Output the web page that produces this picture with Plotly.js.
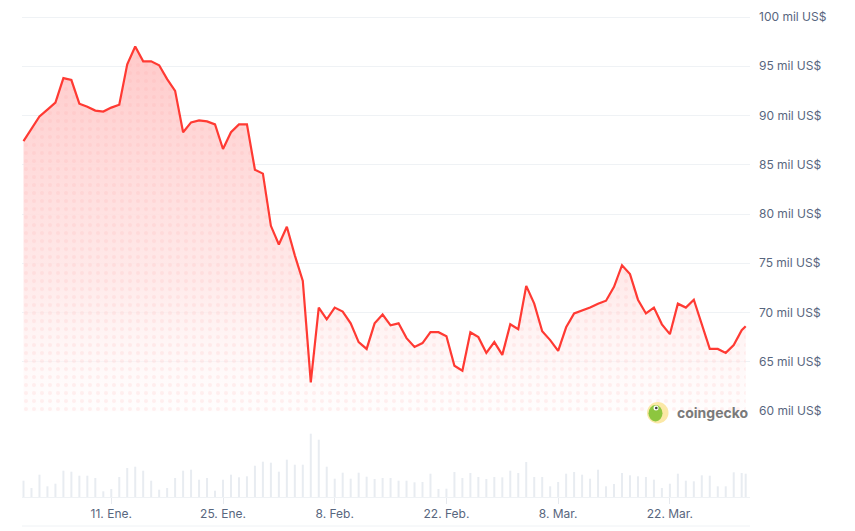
<!DOCTYPE html>
<html>
<head>
<meta charset="utf-8">
<script src="https://cdn.plot.ly/plotly-3.0.1.min.js"></script>
<style>
  html, body { margin: 0; padding: 0; background: #ffffff; }
  #chart { width: 855px; height: 531px; }
</style>
</head>
<body>
<div id="chart"></div>
<script>
// ---- Data ----
const startDate = '2024-12-31';       // first daily point
const lastPointDate = '2025-03-31 12:00'; // final (partial-day) point

// Price in thousands of US$ (one value per day from startDate, then the final point)
const prices = [
  87.4, 88.7, 89.9, 90.6, 91.3, 93.8, 93.6, 91.2, 90.9, 90.5,
  90.4, 90.8, 91.1, 95.2, 97.0, 95.5, 95.5, 95.1, 93.7, 92.5,
  88.3, 89.3, 89.5, 89.4, 89.1, 86.6, 88.3, 89.1, 89.1, 84.5,
  84.1, 78.8, 76.9, 78.7, 75.8, 73.2, 62.9, 70.5, 69.3, 70.5,
  70.1, 68.9, 67.0, 66.3, 68.9, 69.8, 68.7, 68.9, 67.4, 66.5,
  66.9, 68.0, 68.0, 67.6, 64.6, 64.1, 68.0, 67.5, 65.9, 67.0,
  65.7, 68.8, 68.3, 72.7, 70.9, 68.1, 67.2, 66.1, 68.5, 69.9,
  70.2, 70.5, 70.9, 71.2, 72.6, 74.8, 73.9, 71.3, 69.9, 70.5,
  68.8, 67.8, 70.9, 70.5, 71.3, 68.8, 66.3, 66.3, 65.9, 66.7,
  68.2, 68.6
];

// Relative trading volume (same dates)
const volumes = [
  16.3, 9.0, 22.3, 10.7, 13.3, 26.3, 25.3, 21.3, 21.3, 19.0,
  5.7, 8.0, 20.0, 29.0, 30.3, 26.3, 16.3, 7.3, 9.0, 19.0,
  26.3, 27.3, 17.3, 19.0, 6.3, 17.3, 22.3, 19.7, 20.7, 31.3,
  35.3, 34.3, 25.3, 37.3, 32.3, 32.3, 63.3, 57.3, 30.3, 18.3,
  24.3, 18.3, 24.3, 20.3, 18.0, 19.0, 19.0, 16.3, 16.3, 14.7,
  15.0, 23.3, 8.0, 8.3, 25.0, 19.0, 24.0, 20.0, 18.0, 20.0,
  19.7, 26.3, 24.0, 35.0, 20.0, 20.0, 10.7, 15.0, 23.3, 25.0,
  22.3, 18.3, 27.3, 10.7, 13.0, 24.0, 21.7, 20.7, 20.0, 17.3,
  9.0, 13.3, 23.3, 16.3, 15.7, 21.7, 21.3, 10.7, 10.7, 24.7,
  24.0, 23.3
];

const yTickVals = [60, 65, 70, 75, 80, 85, 90, 95, 100];
const yTickText = ['60 mil US$', '65 mil US$', '70 mil US$', '75 mil US$', '80 mil US$',
                   '85 mil US$', '90 mil US$', '95 mil US$', '100 mil US$'];
const xTickVals = ['2025-01-11', '2025-01-25', '2025-02-08', '2025-02-22', '2025-03-08', '2025-03-22'];
const xTickText = ['11. Ene.', '25. Ene.', '8. Feb.', '22. Feb.', '8. Mar.', '22. Mar.'];

// ---- Build date list ----
const DAY = 864e5;
const t0 = Date.parse(startDate + 'T00:00:00Z');
const dates = [];
for (let i = 0; i < prices.length - 1; i++) {
  dates.push(new Date(t0 + i * DAY).toISOString().slice(0, 10));
}
dates.push(lastPointDate);

// ---- Layout geometry helpers (pixels -> paper) ----
const W = 855, H = 531, ML = 22, MR = 105;
const PW = W - ML - MR;
const px = v => (v - ML) / PW;
const py = v => 1 - v / H;

const volTrace = {
  type: 'bar', x: dates, y: volumes, xaxis: 'x', yaxis: 'y2',
  width: 0.25 * DAY,
  marker: { color: '#e8ecf1', line: { width: 0 } },
  hoverinfo: 'skip', showlegend: false
};

const gradTrace = {
  type: 'scatter', mode: 'lines', x: dates, y: prices, xaxis: 'x', yaxis: 'y',
  line: { width: 0, color: 'rgba(0,0,0,0)' },
  fill: 'tozeroy',
  fillgradient: {
    type: 'vertical', start: 60, stop: 97,
    colorscale: [[0, 'rgba(255,250,250,0.4)'], [0.35, 'rgba(255,232,232,0.9)'], [1, 'rgba(255,202,202,1)']]
  },
  hoverinfo: 'skip', showlegend: false
};

const patternTrace = {
  type: 'scatter', mode: 'lines', x: dates, y: prices, xaxis: 'x', yaxis: 'y',
  line: { width: 0, color: 'rgba(0,0,0,0)' },
  fill: 'tozeroy', fillcolor: 'rgba(0,0,0,0)',
  fillpattern: { shape: '.', size: 8, solidity: 0.2, fgcolor: 'rgba(255,160,160,0.14)', bgcolor: 'rgba(0,0,0,0)', fgopacity: 1 },
  hoverinfo: 'skip', showlegend: false
};

const lineTrace = {
  type: 'scatter', mode: 'lines', x: dates, y: prices, xaxis: 'x', yaxis: 'y',
  line: { width: 2.2, color: '#ff3a33' },
  showlegend: false
};

const dayStart = -0.188, dayEnd = 91.04;

const layout = {
  width: W, height: H,
  margin: { l: ML, r: MR, t: 0, b: 0, pad: 0 },
  paper_bgcolor: '#ffffff', plot_bgcolor: 'rgba(0,0,0,0)',
  font: { family: 'Inter, "Noto Sans", sans-serif', size: 12, color: '#58667e' },
  showlegend: false,
  xaxis: {
    type: 'date', anchor: 'y2',
    range: [t0 + dayStart * DAY, t0 + dayEnd * DAY],
    tickvals: xTickVals, ticktext: xTickText,
    ticks: 'outside', ticklen: 6, tickcolor: '#e6e9ee', tickwidth: 1,
    showgrid: false, zeroline: false,
    showline: true, linecolor: '#eff2f5', linewidth: 1,
    tickfont: { size: 12, color: '#58667e' }
  },
  yaxis: {
    side: 'right', anchor: 'x',
    domain: [py(411.5), py(13.06)],
    range: [59.95, 100.4],
    tickvals: yTickVals, ticktext: yTickText,
    ticks: '', showline: false, zeroline: false,
    gridcolor: '#eff2f5', gridwidth: 1,
    ticklabelstandoff: 8,
    tickfont: { size: 12, color: '#58667e' }
  },
  yaxis2: {
    domain: [py(497), py(427)],
    range: [0, 70],
    visible: false, showgrid: false, zeroline: false
  },
  shapes: [
    { type: 'line', xref: 'paper', yref: 'paper', x0: 0, x1: 1, y0: py(526), y1: py(526),
      line: { color: '#eff2f5', width: 1 }, layer: 'below' },
    // coingecko logo
    { type: 'circle', xref: 'paper', yref: 'paper',
      x0: px(647), x1: px(668.5), y0: py(423.5), y1: py(402),
      fillcolor: '#fbe8a6', line: { width: 0 } },
    { type: 'circle', xref: 'paper', yref: 'paper',
      x0: px(648.5), x1: px(662.5), y0: py(421.5), y1: py(405),
      fillcolor: '#8dc63f', line: { width: 0 } },
    { type: 'circle', xref: 'paper', yref: 'paper',
      x0: px(653.5), x1: px(658.5), y0: py(410.5), y1: py(405.5),
      fillcolor: '#ffffff', line: { width: 0 } },
    { type: 'circle', xref: 'paper', yref: 'paper',
      x0: px(655), x1: px(657.6), y0: py(409.3), y1: py(406.7),
      fillcolor: '#3a3a3a', line: { width: 0 } }
  ],
  annotations: [
    { xref: 'paper', yref: 'paper', x: px(675), y: py(412), xanchor: 'left', yanchor: 'middle',
      text: 'coingecko', showarrow: false,
      font: { family: 'Inter, "Open Sans", sans-serif', size: 14, color: '#7a7a7a', weight: 700 } }
  ]
};

Plotly.newPlot('chart', [volTrace, gradTrace, patternTrace, lineTrace], layout, { displayModeBar: false, staticPlot: true });
</script>
</body>
</html>
